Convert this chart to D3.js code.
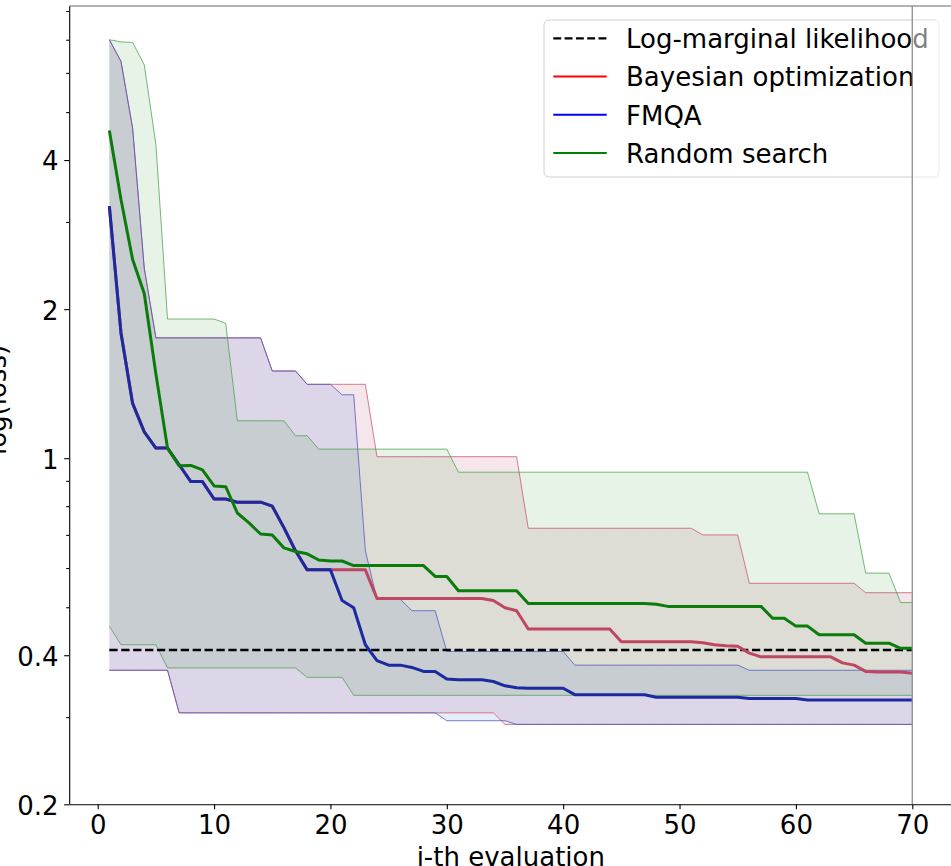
<!DOCTYPE html>
<html>
<head>
<meta charset="utf-8">
<script src="https://cdn.jsdelivr.net/npm/d3@7"></script>
<style>
  html, body { margin: 0; padding: 0; background: #fff; }
  svg { display: block; font-family: "DejaVu Sans", sans-serif; }
</style>
</head>
<body>
<svg id="chart" width="951" height="866"></svg>
<script>
// Evaluation index (1..70)
const evaluations = [
  1, 2, 3, 4, 5, 6, 7, 8, 9, 10, 11, 12, 13, 14, 15, 16, 17, 18, 19, 20,
  21, 22, 23, 24, 25, 26, 27, 28, 29, 30, 31, 32, 33, 34, 35, 36, 37, 38, 39, 40,
  41, 42, 43, 44, 45, 46, 47, 48, 49, 50, 51, 52, 53, 54, 55, 56, 57, 58, 59, 60,
  61, 62, 63, 64, 65, 66, 67, 68, 69, 70
];

// Reference level from the log-marginal likelihood fit
const logMarginalLikelihood = 0.41;

// Bayesian optimization: mean, max, min of best loss so far
const bayesMean = [
  3.23, 1.79, 1.29, 1.13, 1.048, 1.048, 0.97, 0.897, 0.897, 0.827,
  0.827, 0.815, 0.815, 0.815, 0.80, 0.724, 0.65, 0.595, 0.595, 0.595,
  0.595, 0.595, 0.595, 0.521, 0.521, 0.521, 0.521, 0.521, 0.521, 0.521,
  0.521, 0.521, 0.521, 0.516, 0.499, 0.492, 0.452, 0.452, 0.452, 0.452,
  0.452, 0.452, 0.452, 0.452, 0.426, 0.426, 0.426, 0.426, 0.426, 0.426,
  0.426, 0.424, 0.420, 0.418, 0.417, 0.404, 0.397, 0.397, 0.397, 0.397,
  0.397, 0.397, 0.397, 0.386, 0.382, 0.371, 0.370, 0.370, 0.370, 0.368
];
const bayesUpper = [
  7.0, 6.33, 4.64, 2.42, 1.75, 1.75, 1.75, 1.75, 1.75, 1.75,
  1.75, 1.75, 1.75, 1.75, 1.50, 1.50, 1.50, 1.41, 1.41, 1.41,
  1.41, 1.41, 1.41, 1.007, 1.007, 1.007, 1.007, 1.007, 1.007, 1.007,
  1.007, 1.007, 1.007, 1.007, 1.007, 1.007, 0.722, 0.722, 0.722, 0.722,
  0.722, 0.722, 0.722, 0.722, 0.722, 0.722, 0.722, 0.722, 0.722, 0.722,
  0.722, 0.70, 0.70, 0.70, 0.70, 0.559, 0.559, 0.559, 0.559, 0.559,
  0.559, 0.559, 0.559, 0.559, 0.559, 0.535, 0.535, 0.535, 0.535, 0.535
];
const bayesLower = [
  0.373, 0.373, 0.373, 0.373, 0.373, 0.373, 0.306, 0.306, 0.306, 0.306,
  0.306, 0.306, 0.306, 0.306, 0.306, 0.306, 0.306, 0.306, 0.306, 0.306,
  0.306, 0.306, 0.306, 0.306, 0.306, 0.306, 0.306, 0.306, 0.306, 0.306,
  0.306, 0.306, 0.306, 0.306, 0.290, 0.290, 0.290, 0.290, 0.290, 0.290,
  0.290, 0.290, 0.290, 0.290, 0.290, 0.290, 0.290, 0.290, 0.290, 0.290,
  0.290, 0.290, 0.290, 0.290, 0.290, 0.290, 0.290, 0.290, 0.290, 0.290,
  0.290, 0.290, 0.290, 0.290, 0.290, 0.290, 0.290, 0.290, 0.290, 0.290
];

// FMQA
const fmqaMean = [
  3.23, 1.79, 1.29, 1.13, 1.048, 1.048, 0.97, 0.897, 0.897, 0.827,
  0.827, 0.815, 0.815, 0.815, 0.80, 0.724, 0.65, 0.595, 0.595, 0.595,
  0.516, 0.499, 0.420, 0.390, 0.382, 0.382, 0.378, 0.371, 0.371, 0.358,
  0.357, 0.357, 0.357, 0.354, 0.347, 0.344, 0.343, 0.343, 0.343, 0.343,
  0.333, 0.333, 0.333, 0.333, 0.333, 0.333, 0.333, 0.329, 0.329, 0.329,
  0.329, 0.329, 0.329, 0.329, 0.329, 0.327, 0.327, 0.327, 0.327, 0.327,
  0.325, 0.325, 0.325, 0.325, 0.325, 0.325, 0.325, 0.325, 0.325, 0.325
];
const fmqaUpper = [
  7.0, 6.33, 4.64, 2.42, 1.75, 1.75, 1.75, 1.75, 1.75, 1.75,
  1.75, 1.75, 1.75, 1.75, 1.50, 1.50, 1.50, 1.41, 1.41, 1.41,
  1.343, 1.343, 0.65, 0.519, 0.519, 0.519, 0.492, 0.492, 0.492, 0.407,
  0.407, 0.407, 0.407, 0.407, 0.407, 0.407, 0.407, 0.407, 0.407, 0.407,
  0.382, 0.382, 0.382, 0.382, 0.382, 0.382, 0.382, 0.382, 0.382, 0.382,
  0.382, 0.382, 0.382, 0.382, 0.382, 0.373, 0.373, 0.373, 0.373, 0.373,
  0.373, 0.373, 0.373, 0.373, 0.373, 0.373, 0.373, 0.373, 0.373, 0.373
];
const fmqaLower = [
  0.373, 0.373, 0.373, 0.373, 0.373, 0.373, 0.306, 0.306, 0.306, 0.306,
  0.306, 0.306, 0.306, 0.306, 0.306, 0.306, 0.306, 0.306, 0.306, 0.306,
  0.306, 0.306, 0.306, 0.306, 0.306, 0.306, 0.306, 0.306, 0.306, 0.295,
  0.295, 0.295, 0.295, 0.295, 0.295, 0.290, 0.290, 0.290, 0.290, 0.290,
  0.290, 0.290, 0.290, 0.290, 0.290, 0.290, 0.290, 0.290, 0.290, 0.290,
  0.290, 0.290, 0.290, 0.290, 0.290, 0.290, 0.290, 0.290, 0.290, 0.290,
  0.290, 0.290, 0.290, 0.290, 0.290, 0.290, 0.290, 0.290, 0.290, 0.290
];

// Random search
const randomMean = [
  4.59, 3.33, 2.52, 2.15, 1.48, 1.048, 0.965, 0.967, 0.947, 0.879,
  0.876, 0.775, 0.740, 0.703, 0.700, 0.659, 0.648, 0.641, 0.623, 0.620,
  0.620, 0.607, 0.607, 0.607, 0.607, 0.607, 0.607, 0.607, 0.577, 0.577,
  0.540, 0.540, 0.540, 0.540, 0.540, 0.540, 0.509, 0.509, 0.509, 0.509,
  0.509, 0.509, 0.509, 0.509, 0.509, 0.509, 0.509, 0.507, 0.502, 0.502,
  0.502, 0.502, 0.502, 0.502, 0.502, 0.502, 0.502, 0.475, 0.475, 0.458,
  0.458, 0.440, 0.440, 0.440, 0.440, 0.423, 0.423, 0.423, 0.413, 0.413
];
const randomUpper = [
  7.0, 6.93, 6.91, 6.23, 4.30, 1.91, 1.91, 1.91, 1.91, 1.91,
  1.873, 1.19, 1.19, 1.19, 1.19, 1.19, 1.11, 1.11, 1.043, 1.043,
  1.043, 1.043, 1.043, 1.043, 1.043, 1.043, 1.043, 1.043, 1.043, 1.043,
  0.937, 0.937, 0.937, 0.937, 0.937, 0.937, 0.937, 0.937, 0.937, 0.937,
  0.937, 0.937, 0.937, 0.937, 0.937, 0.937, 0.937, 0.937, 0.937, 0.937,
  0.937, 0.937, 0.937, 0.937, 0.937, 0.937, 0.937, 0.937, 0.937, 0.937,
  0.937, 0.772, 0.772, 0.772, 0.772, 0.586, 0.586, 0.586, 0.511, 0.511
];
const randomLower = [
  0.458, 0.420, 0.420, 0.420, 0.420, 0.377, 0.377, 0.377, 0.377, 0.377,
  0.377, 0.377, 0.377, 0.377, 0.377, 0.377, 0.377, 0.361, 0.361, 0.361,
  0.361, 0.332, 0.332, 0.332, 0.332, 0.332, 0.332, 0.332, 0.332, 0.332,
  0.332, 0.332, 0.332, 0.332, 0.332, 0.332, 0.332, 0.332, 0.332, 0.332,
  0.332, 0.332, 0.332, 0.332, 0.332, 0.332, 0.332, 0.332, 0.332, 0.332,
  0.332, 0.332, 0.332, 0.332, 0.332, 0.332, 0.332, 0.332, 0.332, 0.332,
  0.332, 0.332, 0.332, 0.332, 0.332, 0.332, 0.332, 0.332, 0.332, 0.332
];

// Axis ticks
const xTicks = [0, 10, 20, 30, 40, 50, 60, 70];
const yMajorTicks = [0.2, 0.4, 1, 2, 4];
const yMajorLabels = ["0.2", "0.4", "1", "2", "4"];
const yMinorTicks = [0.3, 0.5, 0.6, 0.7, 0.8, 0.9, 3, 5, 6, 7, 8];

const legendLabels = ["Log-marginal likelihood", "Bayesian optimization", "FMQA", "Random search"];

// ---------------------------------------------------------------
const svg = d3.select("#chart");
const plot = { left: 69.2, right: 952.4, top: 5.7, bottom: 804.3 };
const FONT = 26;

const x = d3.scaleLinear().domain([-2.45, 73.45]).range([plot.left, plot.right]);
const y = d3.scaleLog().domain([0.2, 8.2]).range([plot.bottom, plot.top]);

svg.append("defs").append("clipPath").attr("id", "plot-clip")
  .append("rect")
  .attr("x", plot.left).attr("y", plot.top)
  .attr("width", plot.right - plot.left).attr("height", plot.bottom - plot.top);

const data = svg.append("g").attr("clip-path", "url(#plot-clip)");

const series = [
  { key: "bo",  mean: bayesMean,  lo: bayesLower,  hi: bayesUpper,
    fill: "#960a3c", edge: "#c9506c", line: "#bf4660" },
  { key: "fm",  mean: fmqaMean,   lo: fmqaLower,   hi: fmqaUpper,
    fill: "#1446cd", edge: "#4a55c0", line: "#1b2aa0" },
  { key: "rs",  mean: randomMean, lo: randomLower, hi: randomUpper,
    fill: "#0f870f", edge: "#4aa04a", line: "#0a7c0a" }
];

const area = (lo, hi) => d3.area()
  .x((d, i) => x(evaluations[i]))
  .y0((d, i) => y(lo[i]))
  .y1((d, i) => y(hi[i]));
const line = vals => d3.line()
  .x((d, i) => x(evaluations[i]))
  .y((d, i) => y(vals[i]))(vals);

// min/max bands
series.forEach(s => {
  data.append("path")
    .attr("d", area(s.lo, s.hi)(evaluations))
    .attr("fill", s.fill)
    .attr("fill-opacity", 0.1)
    .attr("stroke", "none");
});
series.forEach(s => {
  [s.lo, s.hi].forEach(v => {
    data.append("path")
      .attr("d", line(v))
      .attr("fill", "none")
      .attr("stroke", s.edge)
      .attr("stroke-opacity", 0.75)
      .attr("stroke-width", 1);
  });
});

// likelihood reference
data.append("line")
  .attr("x1", x(evaluations[0])).attr("x2", x(evaluations[evaluations.length - 1]))
  .attr("y1", y(logMarginalLikelihood)).attr("y2", y(logMarginalLikelihood))
  .attr("stroke", "#000")
  .attr("stroke-width", 2.5)
  .attr("stroke-dasharray", "8.3,3.6");

// mean curves
series.forEach(s => {
  data.append("path")
    .attr("d", line(s.mean))
    .attr("fill", "none")
    .attr("stroke", s.line)
    .attr("stroke-width", 3)
    .attr("stroke-linejoin", "round");
});

// ---------------- axes
const xAxis = svg.append("g")
  .attr("transform", `translate(0,${plot.bottom})`)
  .call(d3.axisBottom(x).tickValues(xTicks).tickSize(5).tickSizeOuter(0).tickPadding(6.7));
const yAxis = svg.append("g")
  .attr("transform", `translate(${plot.left},0)`)
  .call(d3.axisLeft(y).tickValues(yMajorTicks)
    .tickFormat((d, i) => yMajorLabels[i]).tickSize(5).tickSizeOuter(0).tickPadding(5.7));
const yMinor = svg.append("g")
  .attr("transform", `translate(${plot.left},0)`)
  .call(d3.axisLeft(y).tickValues(yMinorTicks).tickFormat("").tickSize(3).tickSizeOuter(0));
yMinor.select(".domain").remove();

[xAxis, yAxis, yMinor].forEach(g => {
  g.selectAll("text").attr("font-family", "DejaVu Sans").attr("font-size", FONT).attr("fill", "#000");
  g.selectAll("line").attr("stroke", "#000").attr("stroke-width", 1.1);
  g.select(".domain").attr("stroke", "#000").attr("stroke-width", 1.1);
});
yAxis.selectAll("text").attr("dy", "0.38em");

// top spine
svg.append("line")
  .attr("x1", plot.left).attr("x2", 951)
  .attr("y1", 6).attr("y2", 6)
  .attr("stroke", "#666").attr("stroke-width", 1.2);

// axis titles
svg.append("text")
  .attr("x", (plot.left + plot.right) / 2).attr("y", 866)
  .attr("text-anchor", "middle")
  .attr("font-size", FONT)
  .text("i-th evaluation");
svg.append("text")
  .attr("transform", `translate(6,400) rotate(-90)`)
  .attr("text-anchor", "middle")
  .attr("font-size", FONT)
  .text("log(loss)");

// ---------------- legend
const lg = svg.append("g");
lg.append("rect")
  .attr("x", 544).attr("y", 20).attr("width", 395).attr("height", 157)
  .attr("rx", 5)
  .attr("fill", "#fff").attr("fill-opacity", 0.8)
  .attr("stroke", "#d0d0d0").attr("stroke-width", 1);
const legendStyles = [
  { color: "#000", dash: "7.9,3.4", width: 2.2 },
  { color: "#ff0000", dash: null, width: 2 },
  { color: "#0000ff", dash: null, width: 2 },
  { color: "#008000", dash: null, width: 2 }
];
legendLabels.forEach((label, i) => {
  const cy = 38.3 + i * 38.2;
  lg.append("line")
    .attr("x1", 553.3).attr("x2", 606.7)
    .attr("y1", cy).attr("y2", cy)
    .attr("stroke", legendStyles[i].color)
    .attr("stroke-width", legendStyles[i].width)
    .attr("stroke-dasharray", legendStyles[i].dash);
  lg.append("text")
    .attr("x", 626).attr("y", cy + 9.8)
    .attr("font-size", FONT)
    .text(label);
});
// part of the legend past the end marker is washed out
svg.append("rect")
  .attr("x", x(70) + 0.6).attr("y", 20)
  .attr("width", 951 - x(70)).attr("height", 158)
  .attr("fill", "#fff").attr("fill-opacity", 0.5);

// end-of-budget marker
svg.append("line")
  .attr("x1", x(70)).attr("x2", x(70))
  .attr("y1", plot.top).attr("y2", plot.bottom)
  .attr("stroke", "#8c8c8c").attr("stroke-width", 1.3);
</script>
</body>
</html>
